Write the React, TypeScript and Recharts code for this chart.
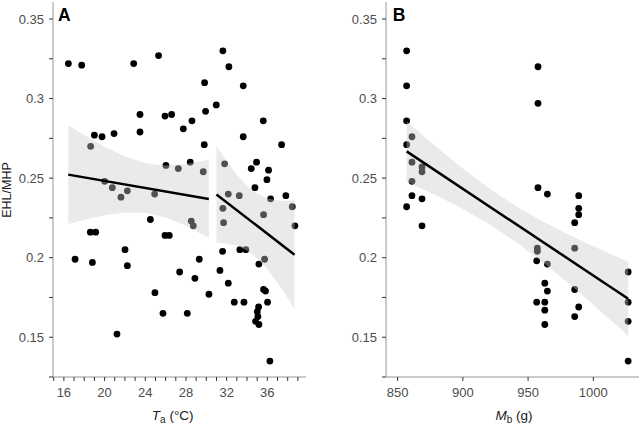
import { ComposedChart, Scatter, Area, Line, XAxis, YAxis } from "recharts";

// Panel A: ambient temperature (°C) vs EHL/MHP
const taTemps = [
  16.44, 17.75, 19.0, 19.75, 20.93, 22.86, 23.48, 23.48, 25.31, 25.94, 26.59, 27.74, 28.59, 29.83, 29.93, 29.8,
  26.03, 30.98, 31.63, 32.22, 33.63, 33.63, 35.6, 34.42, 34.94, 34.78, 36.12, 35.96, 36.32, 37.4, 37.82,
  18.63, 20.01, 20.76, 21.61, 22.24, 24.92, 27.25, 28.42, 29.7, 31.8, 32.16, 33.24, 31.63, 38.45,
  28.52, 28.72, 31.7, 35.63, 38.71, 35.73,
  17.1, 18.6, 19.13, 18.8, 22.01, 22.24, 21.22, 24.5, 24.95, 25.94, 26.36, 25.74, 27.38, 28.13, 28.88, 29.31,
  30.26, 31.34, 31.6, 32.16, 32.75, 33.3, 33.89, 33.7, 35.17, 35.63, 35.82, 36.02, 35.14, 35.01, 35.07, 34.84,
  35.17, 36.25,
];
const taRatios = [
  0.322, 0.321, 0.277, 0.276, 0.278, 0.322, 0.29, 0.279, 0.327, 0.289, 0.29, 0.281, 0.286, 0.31, 0.292, 0.271,
  0.258, 0.296, 0.33, 0.32, 0.308, 0.276, 0.286, 0.256, 0.26, 0.244, 0.255, 0.249, 0.237, 0.271, 0.239,
  0.27, 0.248, 0.244, 0.238, 0.242, 0.24, 0.256, 0.26, 0.254, 0.259, 0.24, 0.239, 0.231, 0.232,
  0.223, 0.22, 0.222, 0.227, 0.22, 0.199,
  0.199, 0.216, 0.216, 0.197, 0.205, 0.195, 0.152, 0.224, 0.178, 0.214, 0.214, 0.165, 0.191, 0.165, 0.187, 0.199,
  0.177, 0.192, 0.204, 0.184, 0.172, 0.205, 0.205, 0.172, 0.196, 0.18, 0.179, 0.172, 0.169, 0.166, 0.163, 0.16,
  0.158, 0.135,
];

// Panel B: body mass (g) vs EHL/MHP
const mbMasses = [
  856.9, 856.9, 856.9, 856.9, 856.9, 861.0, 861.0, 861.0, 861.0, 868.7, 868.7, 868.7, 868.7,
  956.6, 956.6, 957.1, 957.1, 957.6, 957.6, 957.6, 962.8, 962.8, 962.8, 962.8, 964.8, 964.8, 964.8,
  985.7, 985.7, 985.7, 985.7, 988.8, 988.8, 988.8, 988.8, 1026.7, 1026.7, 1026.7, 1026.7,
];
const mbRatios = [
  0.33, 0.308, 0.286, 0.271, 0.232, 0.276, 0.26, 0.248, 0.239, 0.257, 0.254, 0.237, 0.22,
  0.198, 0.172, 0.206, 0.204, 0.32, 0.297, 0.244, 0.184, 0.172, 0.167, 0.158, 0.24, 0.196, 0.179,
  0.222, 0.206, 0.18, 0.163, 0.239, 0.231, 0.227, 0.169, 0.191, 0.172, 0.16, 0.135,
];

// fitted lines (end points) and confidence bands
const taFit1Temps = [16.43, 30.25];
const taFit1Ratios = [0.2522, 0.2369];
const taBand1Temps = [16.43, 18, 20, 22, 24, 26, 28, 30.25];
const taBand1Low = [0.2212, 0.2239, 0.2267, 0.2284, 0.2282, 0.2253, 0.22, 0.2123];
const taBand1High = [0.2832, 0.2771, 0.2697, 0.2636, 0.2594, 0.2579, 0.2588, 0.2615];

const taFit2Temps = [31.0, 38.67];
const taFit2Ratios = [0.2397, 0.2019];
const taBand2Temps = [31, 32, 33, 34, 35, 36, 37, 38, 38.67];
const taBand2Low = [0.2094, 0.2089, 0.2075, 0.2046, 0.1997, 0.1928, 0.1842, 0.1747, 0.1679];
const taBand2High = [0.27, 0.2607, 0.2521, 0.2452, 0.2403, 0.2374, 0.236, 0.2357, 0.2359];

const mbFitMasses = [856.9, 1026.7];
const mbFitRatios = [0.2668, 0.1742];
const mbBandMasses = [856.9, 880, 900, 920, 940, 960, 980, 1000, 1026.7];
const mbBandLow = [0.2479, 0.239, 0.2306, 0.2212, 0.2103, 0.1979, 0.1845, 0.1704, 0.151];
const mbBandHigh = [0.2857, 0.2694, 0.256, 0.2436, 0.2327, 0.2233, 0.2149, 0.2072, 0.1974];

// ticks
const ratioTicks = [0.125, 0.15, 0.175, 0.2, 0.225, 0.25, 0.275, 0.3, 0.325, 0.35];
const ratioTickLabels = ["", "0.15", "", "0.2", "", "0.25", "", "0.3", "", "0.35"];
const taTicks = [15, 16, 17, 18, 19, 20, 21, 22, 23, 24, 25, 26, 27, 28, 29, 30, 31, 32, 33, 34, 35, 36, 37, 38, 39];
const taLabelledTicks = [16, 20, 24, 28, 32, 36];
const mbTicks = [850, 900, 950, 1000];

const FONT = "'Liberation Sans', Arial, sans-serif";
const TEXT_GREY = "#4d4d4d";
const AXIS_GREY = "#b8b8b8";
const TICK_COLOR = "#333333";
const RATIO_DOMAIN: [number, number] = [0.125, 0.3607];

const zipPoints = (xs: number[], ys: number[]) => xs.map((x, i) => ({ x, y: ys[i] }));

// one table per panel; each series only fills its own key
function buildRows(
  bands: { xs: number[]; lo: number[]; hi: number[]; key: string }[],
  fits: { xs: number[]; ys: number[]; key: string }[]
) {
  const rows: any[] = [];
  bands.forEach((b) => b.xs.forEach((x, i) => rows.push({ x, [b.key]: [b.lo[i], b.hi[i]] })));
  fits.forEach((f) => f.xs.forEach((x, i) => rows.push({ x, [f.key]: f.ys[i] })));
  return rows.sort((a, b) => a.x - b.x);
}

const taRows = buildRows(
  [
    { xs: taBand1Temps, lo: taBand1Low, hi: taBand1High, key: "band1" },
    { xs: taBand2Temps, lo: taBand2Low, hi: taBand2High, key: "band2" },
  ],
  [
    { xs: taFit1Temps, ys: taFit1Ratios, key: "fit1" },
    { xs: taFit2Temps, ys: taFit2Ratios, key: "fit2" },
  ]
);
const mbRows = buildRows(
  [{ xs: mbBandMasses, lo: mbBandLow, hi: mbBandHigh, key: "band" }],
  [{ xs: mbFitMasses, ys: mbFitRatios, key: "fit" }]
);

const ratioLabel = (v: number) => {
  const i = ratioTicks.findIndex((t) => Math.abs(t - v) < 1e-6);
  return i >= 0 ? ratioTickLabels[i] : "";
};

const Dot = (p: any) => <circle cx={p.cx} cy={p.cy} r={3.4} fill="#000" />;

function Panel(props: {
  left: number;
  width: number;
  yAxisWidth: number;
  marginRight: number;
  xDomain: [number, number];
  xTicks: number[];
  xLabel: (v: number) => string;
  points: { x: number; y: number }[];
  rows: any[];
  bandKeys: string[];
  fitKeys: string[];
}) {
  const { left, width, yAxisWidth, marginRight, xDomain, xTicks, xLabel, points, rows, bandKeys, fitKeys } = props;
  const tickStyle = { fill: TEXT_GREY, fontSize: 13, fontFamily: FONT };
  return (
    <div style={{ position: "absolute", left, top: 0 }}>
      <ComposedChart
        width={width}
        height={426}
        data={rows}
        margin={{ top: 2, right: marginRight, bottom: 19, left: 0 }}
      >
        <XAxis
          type="number"
          dataKey="x"
          domain={xDomain}
          allowDataOverflow
          ticks={xTicks}
          interval={0}
          tickFormatter={xLabel}
          height={30}
          tickSize={4}
          tickMargin={7}
          stroke={TICK_COLOR}
          axisLine={{ stroke: AXIS_GREY, strokeWidth: 1.5 }}
          tickLine={{ stroke: TICK_COLOR, strokeWidth: 1 }}
          tick={tickStyle}
        />
        <XAxis
          xAxisId="top"
          orientation="top"
          type="number"
          dataKey="x"
          domain={xDomain}
          allowDataOverflow
          height={0}
          tick={false}
          tickLine={false}
          axisLine={{ stroke: "#000", strokeWidth: 1.5 }}
        />
        <YAxis
          type="number"
          domain={RATIO_DOMAIN}
          allowDataOverflow
          ticks={ratioTicks}
          interval={0}
          tickFormatter={ratioLabel}
          width={yAxisWidth}
          tickSize={4}
          tickMargin={5}
          stroke={TICK_COLOR}
          axisLine={{ stroke: AXIS_GREY, strokeWidth: 1.5 }}
          tickLine={{ stroke: TICK_COLOR, strokeWidth: 1 }}
          tick={tickStyle}
        />
        <YAxis
          yAxisId="right"
          orientation="right"
          type="number"
          domain={RATIO_DOMAIN}
          allowDataOverflow
          width={0}
          tick={false}
          tickLine={false}
          axisLine={{ stroke: "#000", strokeWidth: 1.5 }}
        />

        {/* points first, the translucent band goes over them */}
        <Scatter data={points} dataKey="y" shape={Dot} isAnimationActive={false} zIndex={50} />

        {bandKeys.map((k) => (
          <Area
            key={k}
            type="linear"
            dataKey={(r: any) => r[k] ?? [null, null]}
            stroke="none"
            fill="#cbcbcb"
            fillOpacity={0.4}
            connectNulls
            dot={false}
            activeDot={false}
            isAnimationActive={false}
            zIndex={100}
          />
        ))}

        {fitKeys.map((k) => (
          <Line
            key={k}
            type="linear"
            dataKey={k}
            stroke="#000"
            strokeWidth={2.5}
            dot={false}
            activeDot={false}
            connectNulls
            isAnimationActive={false}
            zIndex={400}
          />
        ))}
      </ComposedChart>
    </div>
  );
}

export default function App() {
  return (
    <div
      style={{
        position: "absolute",
        left: 0,
        top: 0,
        width: 642,
        height: 426,
        background: "#fff",
        fontFamily: FONT,
      }}
    >
      <Panel
        left={0}
        width={320}
        yAxisWidth={53}
        marginRight={14}
        xDomain={[14.93, 39.8]}
        xTicks={taTicks}
        xLabel={(v) => (taLabelledTicks.includes(v) ? String(v) : "")}
        points={zipPoints(taTemps, taRatios)}
        rows={taRows}
        bandKeys={["band1", "band2"]}
        fitKeys={["fit1", "fit2"]}
      />
      <Panel
        left={320}
        width={322}
        yAxisWidth={66}
        marginRight={3}
        xDomain={[841.1, 1035]}
        xTicks={mbTicks}
        xLabel={(v) => String(v)}
        points={zipPoints(mbMasses, mbRatios)}
        rows={mbRows}
        bandKeys={["band"]}
        fitKeys={["fit"]}
      />

      {/* panel letters and axis titles */}
      <svg
        width={642}
        height={426}
        style={{ position: "absolute", left: 0, top: 0, pointerEvents: "none" }}
        fontFamily={FONT}
      >
        <text x={58} y={20.7} fontSize={17.5} fontWeight="bold" fill="#000">
          A
        </text>
        <text x={392.7} y={20.7} fontSize={17.5} fontWeight="bold" fill="#000">
          B
        </text>
        <text transform="translate(10.5,190) rotate(-90)" textAnchor="middle" fontSize={12.5} fill="#1a1a1a">
          EHL/MHP
        </text>
        <text x={172.7} y={419.7} textAnchor="middle" fontSize={13.5} fill="#1a1a1a">
          <tspan fontStyle="italic">T</tspan>
          <tspan fontSize={10} dy={3}>
            a
          </tspan>
          <tspan dy={-3}>{" (°C)"}</tspan>
        </text>
        <text x={514} y={419.7} textAnchor="middle" fontSize={13.5} fill="#1a1a1a">
          <tspan fontStyle="italic">M</tspan>
          <tspan fontSize={10} dy={3}>
            b
          </tspan>
          <tspan dy={-3}>{" (g)"}</tspan>
        </text>
      </svg>
    </div>
  );
}
